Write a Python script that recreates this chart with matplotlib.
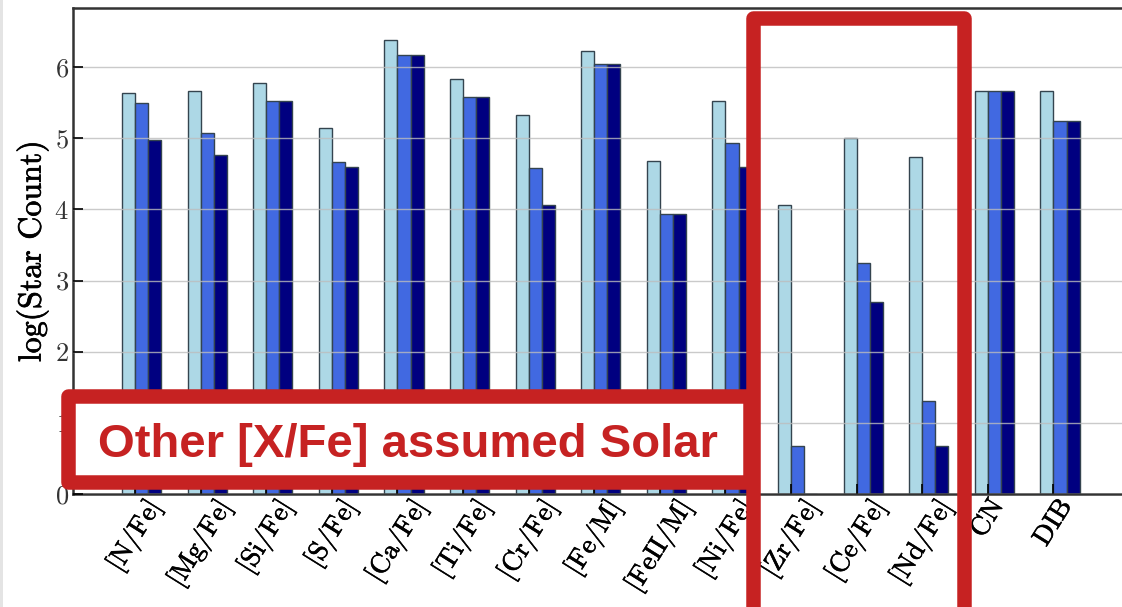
import numpy as np
import matplotlib
matplotlib.use("Agg")
import matplotlib.pyplot as plt
import matplotlib.patheffects as pe
from matplotlib.patches import Rectangle

# abundance labels and log star counts for the three quality cuts
labels = ['[N/Fe]', '[Mg/Fe]', '[Si/Fe]', '[S/Fe]', '[Ca/Fe]', '[Ti/Fe]', '[Cr/Fe]',
          '[Fe/M]', '[FeII/M]', '[Ni/Fe]', '[Zr/Fe]', '[Ce/Fe]', '[Nd/Fe]', 'CN', 'DIB']
all_stars = [5.63, 5.67, 5.77, 5.14, 6.38, 5.83, 5.32, 6.23, 4.68, 5.53, 4.06, 5.00, 4.73, 5.67, 5.66]
cut_one = [5.50, 5.08, 5.53, 4.66, 6.17, 5.58, 4.58, 6.04, 3.94, 4.93, 0.68, 3.24, 1.31, 5.67, 5.24]
cut_two = [4.97, 4.76, 5.53, 4.60, 6.17, 5.58, 4.06, 6.04, 3.94, 4.60, 0.00, 2.70, 0.68, 5.67, 5.24]

W, H = 1122, 607
red = '#c62222'

plt.rcParams['font.family'] = 'cmr10'
plt.rcParams['axes.formatter.use_mathtext'] = True

fig = plt.figure(figsize=(W / 100., H / 100.), dpi=100)
ax = fig.add_axes([73. / W, 1 - 494. / H, (W - 73.) / W, (494. - 8.) / H])

ind = np.arange(len(labels))
width = 0.2
ax.bar(ind, all_stars, width, color='lightblue', edgecolor='#34444f', linewidth=1)
ax.bar(ind + width, cut_one, width, color='royalblue', edgecolor='#34444f', linewidth=1)
ax.bar(ind + 2 * width, cut_two, width, color='navy', edgecolor='#34444f', linewidth=1)

ax.set_xlim(-0.846, 15.145)
ax.set_ylim(0, 6.83)
ax.set_yticks(range(7))
ax.set_xticks(ind + width / 2)
ax.set_xticklabels(labels, rotation=58, ha='center', fontsize=19.5)
ax.tick_params(direction='in', length=7, width=1.2, color='black')
ax.tick_params(axis='y', labelsize=19, pad=3, labelcolor='#333333')
ax.tick_params(axis='x', pad=1)
ax.yaxis.grid(True, color='#bdbdbd', linewidth=1, alpha=0.8)
ax.set_axisbelow(False)
ax.set_ylabel('log(Star Count)', fontsize=23, labelpad=4,
			  path_effects=[pe.withStroke(linewidth=0.5, foreground='black')])

for lbl in ax.get_xticklabels():
	lbl.set_path_effects([pe.withStroke(linewidth=0.4, foreground='black')])

for s in ['left', 'top', 'bottom']:
	ax.spines[s].set_color('#333333')
	ax.spines[s].set_linewidth(1.8)
ax.spines['right'].set_visible(False)

def fig_rect(x0, y0, x1, y1, **kw):
	# rectangle given in pixels from the top left corner
	return Rectangle((x0 / W, 1 - y1 / H), (x1 - x0) / W, (y1 - y0) / H,
					 transform=fig.transFigure, **kw)

# thin gray strip on the left edge
fig.add_artist(fig_rect(0, 0, 3, H, facecolor='#e4e4e4', edgecolor='none'))

lw = 14.5 * 72 / 100.
fig.add_artist(fig_rect(67.5, 396, 750, 481.5, facecolor='white', edgecolor=red,
						linewidth=lw, joinstyle='round', zorder=5))
fig.add_artist(fig_rect(752.5, 17.5, 964, 611.5, facecolor='none', edgecolor=red,
						linewidth=lw, joinstyle='round', zorder=6))
fig.text(408. / W, 1 - 457. / H, 'Other [X/Fe] assumed Solar', ha='center', va='baseline',
		 fontsize=34, fontweight='bold', family='Liberation Sans', color=red, zorder=7)

plt.savefig('out.png', dpi=100)
